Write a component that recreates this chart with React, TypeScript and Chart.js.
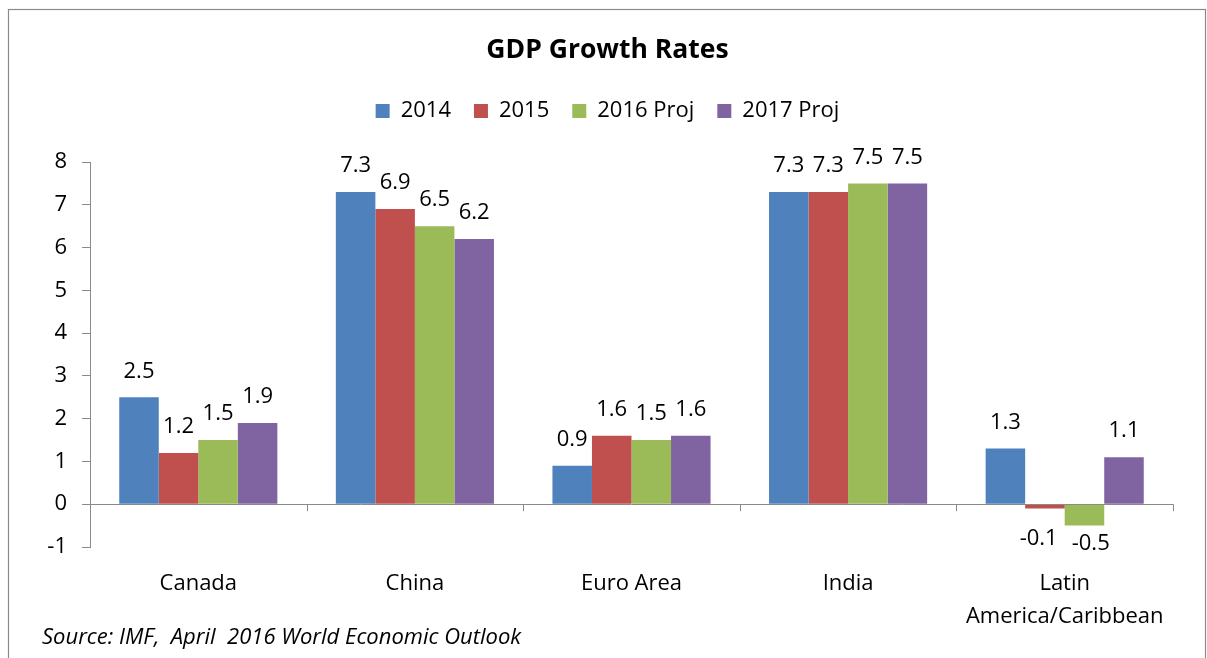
import React, { useEffect, useRef } from "react";
import { Chart, registerables } from "chart.js";

Chart.register(...registerables);

const categories: (string | string[])[] = ["Canada", "China", "Euro Area", "India", ["Latin", "America/Caribbean"]];
const seriesNames = ["2014", "2015", "2016 Proj", "2017 Proj"];
const values2014 = [2.5, 7.3, 0.9, 7.3, 1.3];
const values2015 = [1.2, 6.9, 1.6, 7.3, -0.1];
const values2016 = [1.5, 6.5, 1.5, 7.5, -0.5];
const values2017 = [1.9, 6.2, 1.6, 7.5, 1.1];
const seriesColors = ["#4F81BD", "#C0504D", "#9BBB59", "#8064A2"];
const yMin = -1;
const yMax = 8;
const titleText = "GDP Growth Rates";
const sourceText = "Source: IMF,  April  2016 World Economic Outlook";

const FONT = "'Open Sans', sans-serif";
const AXIS_GRAY = "#8a8a8a";

const framePlugin = {
  id: "frame",
  beforeDraw(chart: any) {
    const { ctx, width, height } = chart;
    ctx.save();
    ctx.fillStyle = "#ffffff";
    ctx.fillRect(0, 0, width, height);
    ctx.strokeStyle = AXIS_GRAY;
    ctx.lineWidth = 1.2;
    ctx.strokeRect(8.5, 9.5, 1197, height + 20);
    ctx.restore();
  },
};

const categoryTicksPlugin = {
  id: "categoryTicks",
  afterDatasetsDraw(chart: any) {
    const { ctx } = chart;
    const xs = chart.scales.x;
    const ys = chart.scales.y;
    const y0 = ys.getPixelForValue(0);
    const n = chart.data.labels.length;
    ctx.save();
    ctx.strokeStyle = AXIS_GRAY;
    ctx.lineWidth = 1;
    ctx.beginPath();
    ctx.moveTo(xs.left, Math.round(y0) + 0.5);
    ctx.lineTo(xs.right, Math.round(y0) + 0.5);
    for (let i = 0; i <= n; i++) {
      const x = Math.round(xs.left + (i * xs.width) / n) + 0.5;
      ctx.moveTo(x, y0);
      ctx.lineTo(x, y0 + 7);
    }
    ctx.stroke();
    ctx.restore();
  },
};

const dataLabelsPlugin = {
  id: "dataLabels",
  afterDatasetsDraw(chart: any) {
    const { ctx } = chart;
    const ys = chart.scales.y;
    const y0 = ys.getPixelForValue(0);
    ctx.save();
    ctx.font = `22px ${FONT}`;
    ctx.fillStyle = "#000000";
    ctx.textAlign = "center";
    ctx.textBaseline = "middle";
    const n = chart.data.labels.length;
    for (let i = 0; i < n; i++) {
      const items: any[] = [];
      chart.data.datasets.forEach((ds: any, di: number) => {
        const bar = chart.getDatasetMeta(di).data[i];
        const v = ds.data[i];
        const text = v.toFixed(1);
        const y = v >= 0 ? bar.y - 26 : Math.max(bar.y + 18, y0 + 35);
        items.push({ x: bar.x, y, text, w: ctx.measureText(text).width, neg: v < 0 });
      });
      // push apart adjacent negative labels that collide
      for (let k = 0; k < items.length - 1; k++) {
        const a = items[k];
        const b = items[k + 1];
        if (a.neg && b.neg) {
          const need = (a.w + b.w) / 2 + 14;
          const gap = b.x - a.x;
          if (gap < need) {
            const d = (need - gap) / 2;
            a.x -= d;
            b.x += d;
          }
        }
      }
      items.forEach((it) => ctx.fillText(it.text, it.x, it.y));
    }
    ctx.restore();
  },
};

export default function App() {
  const ref = useRef<HTMLCanvasElement>(null);

  useEffect(() => {
    if (!ref.current) return;
    const allValues = [values2014, values2015, values2016, values2017];
    const chart = new Chart(ref.current, {
      type: "bar",
      data: {
        labels: categories as any,
        datasets: allValues.map((vals, i) => ({
          label: seriesNames[i],
          data: vals,
          backgroundColor: seriesColors[i],
          borderWidth: 0,
          xAxisID: "x",
          yAxisID: "y",
          categoryPercentage: 0.73,
          barPercentage: 1.0,
        })),
      },
      options: {
        responsive: false,
        animation: false,
        maintainAspectRatio: false,
        layout: { padding: { left: 42, right: 34, top: 10, bottom: 6.8 } },
        plugins: {
          title: {
            display: true,
            text: titleText,
            color: "#000000",
            font: { family: FONT, size: 26.5, weight: "bold" },
            padding: { top: 24.1, bottom: 11.1 },
          },
          legend: {
            display: true,
            position: "top",
            labels: {
              color: "#000000",
              font: { family: FONT, size: 22 },
              boxWidth: 14,
              boxHeight: 14,
              padding: 23,
            },
          },
          subtitle: {
            display: true,
            position: "bottom",
            align: "start",
            text: sourceText,
            color: "#000000",
            font: { family: FONT, size: 22, style: "italic" },
            padding: { top: -6.2, bottom: 0 },
          },
          tooltip: { enabled: false },
        },
        scales: {
          x: {
            type: "category",
            position: "bottom",
            grid: { display: false },
            border: { display: false },
            ticks: {
              color: "#000000",
              font: { family: FONT, size: 22, lineHeight: 1.5 },
              padding: 12.5,
              autoSkip: false,
              maxRotation: 0,
            },
            afterFit: (s: any) => {
              s.height = 84;
            },
          },
          x2: {
            type: "category",
            position: "top",
            grid: { display: false },
            border: { display: false },
            ticks: { display: false },
            afterFit: (s: any) => {
              s.height = 30;
            },
          },
          y: {
            type: "linear",
            min: yMin,
            max: yMax,
            border: { display: true, color: AXIS_GRAY, width: 1 },
            grid: {
              color: () => "transparent",
              tickColor: AXIS_GRAY,
              tickLength: 8,
            },
            ticks: {
              stepSize: 1,
              color: "#000000",
              font: { family: FONT, size: 22 },
              padding: 15,
            },
            afterFit: (s: any) => {
              s.width = 48;
            },
          },
        },
      },
      plugins: [framePlugin, categoryTicksPlugin, dataLabelsPlugin],
    } as any);
    return () => chart.destroy();
  }, []);

  return (
    <div style={{ position: "fixed", left: 0, top: 0, width: 1207, height: 658 }}>
      <canvas ref={ref} width={1207} height={658} style={{ width: 1207, height: 658, display: "block" }} />
    </div>
  );
}
